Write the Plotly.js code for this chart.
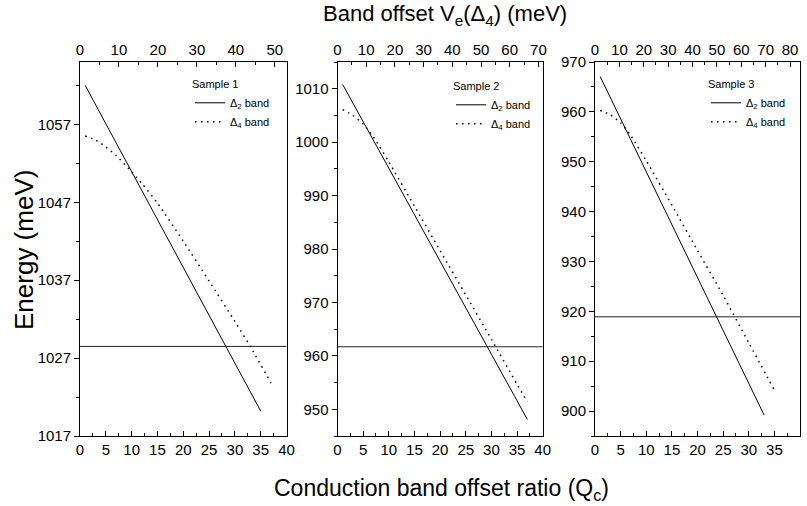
<!DOCTYPE html>
<html><head><meta charset="utf-8">
<script src="https://cdn.plot.ly/plotly-3.0.1.min.js"></script>
<style>html,body{margin:0;padding:0;background:#fff}#chart{width:807px;height:506px}</style>
</head><body><div id="chart"></div>
<script>
// ---- data ----
const sampleNames = ["Sample 1", "Sample 2", "Sample 3"];
const bandNames = ["Δ<sub>2</sub> band", "Δ<sub>4</sub> band"];

const qc1_d2 = [1, 5, 10, 15, 20, 25, 30, 35];
const e1_d2  = [1062.0, 1057.1, 1050.9, 1044.8, 1038.6, 1032.5, 1026.4, 1020.2];
const qc1_d4 = [1, 3, 5, 7, 10, 12, 15, 20, 25, 30, 33, 37];
const e1_d4  = [1055.5, 1055.0, 1054.1, 1053.0, 1050.9, 1049.4, 1046.9, 1042.0, 1036.9, 1031.7, 1028.5, 1023.8];

const qc2_d2 = [1, 5, 10, 15, 20, 25, 30, 35, 37];
const e2_d2  = [1010.8, 1003.8, 995.1, 986.4, 977.7, 969.0, 960.3, 951.6, 948.1];
const qc2_d4 = [1, 3, 5, 7, 10, 15, 20, 25, 30, 35, 37];
const e2_d4  = [1006.1, 1005.0, 1003.4, 1001.0, 996.3, 988.0, 979.7, 971.4, 963.1, 954.7, 951.4];

const qc3_d2 = [1, 5, 10, 15, 20, 25, 30, 33];
const e3_d2  = [967.1, 958.6, 948.0, 937.4, 926.8, 916.2, 905.6, 899.2];
const qc3_d4 = [1, 3, 5, 7, 10, 15, 20, 25, 30, 35];
const e3_d4  = [960.3, 959.4, 957.8, 955.2, 950.2, 941.3, 932.2, 923.2, 913.7, 904.2];

const levelQc = [0, 40];
const levels  = [1028.5, 961.7, 918.9];

const xRange = [0, 40];
const yRanges = [[1017, 1065], [945, 1015], [895, 970]];
const yTick0 = [1017, 950, 900];
const topRanges = [[0, 53], [0, 71.5], [0, 84.1]];

// ---- layout geometry ----
const W = 807, H = 506;
const xDom = [[80 / W, 286.5 / W], [337.5 / W, 542.7 / W], [595 / W, 800 / W]];
const yDom = [1 - 436 / H, 1 - 62 / H];
const legendPos = [[190 / W, 1 - 74 / H], [451 / W, 1 - 76 / H], [706 / W, 1 - 74 / H]];

const FONT = "Arial, 'Liberation Sans', sans-serif";
const qcSets = [[qc1_d2, qc1_d4], [qc2_d2, qc2_d4], [qc3_d2, qc3_d4]];
const eSets = [[e1_d2, e1_d4], [e2_d2, e2_d4], [e3_d2, e3_d4]];

const traces = [];
const layout = {
  width: W, height: H,
  margin: {l: 0, r: 0, t: 0, b: 0, pad: 0},
  paper_bgcolor: "#fff", plot_bgcolor: "#fff",
  font: {family: FONT, color: "#000", size: 15},
  showlegend: true,
  annotations: []
};

for (let i = 0; i < 3; i++) {
  const n = i + 1;
  const xa = n === 1 ? "x" : "x" + n;
  const ya = n === 1 ? "y" : "y" + n;
  const lg = n === 1 ? "legend" : "legend" + n;
  traces.push({
    x: levelQc, y: [levels[i], levels[i]], xaxis: xa, yaxis: ya,
    mode: "lines", line: {color: "#222", width: 1}, showlegend: false, hoverinfo: "skip"
  });
  traces.push({
    x: qcSets[i][0], y: eSets[i][0], xaxis: xa, yaxis: ya, legend: lg,
    name: bandNames[0], mode: "lines", line: {color: "#000", width: 1}
  });
  traces.push({
    x: qcSets[i][1], y: eSets[i][1], xaxis: xa, yaxis: ya, legend: lg,
    name: bandNames[1], mode: "lines",
    line: {color: "#000", width: 1.5, dash: "1.5px,4.5px", shape: "spline", smoothing: 0.6}
  });

  const axLine = {showline: true, linecolor: "#000", linewidth: 1, showgrid: false, zeroline: false,
                  tickcolor: "#000", tickfont: {family: FONT, size: 15, color: "#000"}};
  layout["xaxis" + (n === 1 ? "" : n)] = Object.assign({}, axLine, {
    domain: xDom[i], range: xRange, anchor: ya, dtick: 5, tick0: 0,
    ticks: "inside", ticklen: 5,
    minor: {dtick: 2.5, tick0: 0, ticks: "inside", ticklen: 3, tickcolor: "#000"}
  });
  layout["yaxis" + (n === 1 ? "" : n)] = Object.assign({}, axLine, {
    domain: yDom, range: yRanges[i], anchor: xa, dtick: 10, tick0: yTick0[i],
    ticks: "outside", ticklen: 5, mirror: true,
    minor: {dtick: 5, tick0: yTick0[i], ticks: "outside", ticklen: 3, tickcolor: "#000"}
  });
  layout["xaxis" + (n + 3)] = Object.assign({}, axLine, {
    overlaying: xa, side: "top", anchor: ya, range: topRanges[i], dtick: 10, tick0: 0,
    ticks: "inside", ticklen: 5,
    minor: {dtick: 5, tick0: 0, ticks: "inside", ticklen: 3, tickcolor: "#000"}
  });
  layout[lg] = {
    x: legendPos[i][0], y: legendPos[i][1], xanchor: "left", yanchor: "top",
    bgcolor: "rgba(0,0,0,0)", borderwidth: 0, itemwidth: 30, tracegroupgap: 0,
    font: {family: FONT, size: 11, color: "#000"},
    title: {text: sampleNames[i], font: {family: FONT, size: 11, color: "#000"}, side: "top"}
  };
  // empty trace to register the top axis
  traces.push({x: [], y: [], xaxis: "x" + (n + 3), yaxis: ya, showlegend: false, hoverinfo: "skip", mode: "lines"});
}

layout.annotations.push(
  {text: "Band offset V<sub>e</sub>(Δ<sub>4</sub>) (meV)", xref: "paper", yref: "paper",
   x: 445 / W, y: 1 - 15 / H, showarrow: false, xanchor: "center", yanchor: "middle",
   font: {family: FONT, size: 22, color: "#000"}},
  {text: "Conduction band offset ratio (Q<sub>c</sub>)", xref: "paper", yref: "paper",
   x: 441 / W, y: 1 - 489 / H, showarrow: false, xanchor: "center", yanchor: "middle",
   font: {family: FONT, size: 23, color: "#000"}},
  {text: "Energy (meV)", xref: "paper", yref: "paper", textangle: -90,
   x: 24 / W, y: 1 - 250 / H, showarrow: false, xanchor: "center", yanchor: "middle",
   font: {family: FONT, size: 26, color: "#000"}}
);

Plotly.newPlot("chart", traces, layout, {displayModeBar: false, staticPlot: true});
</script>
</body></html>
